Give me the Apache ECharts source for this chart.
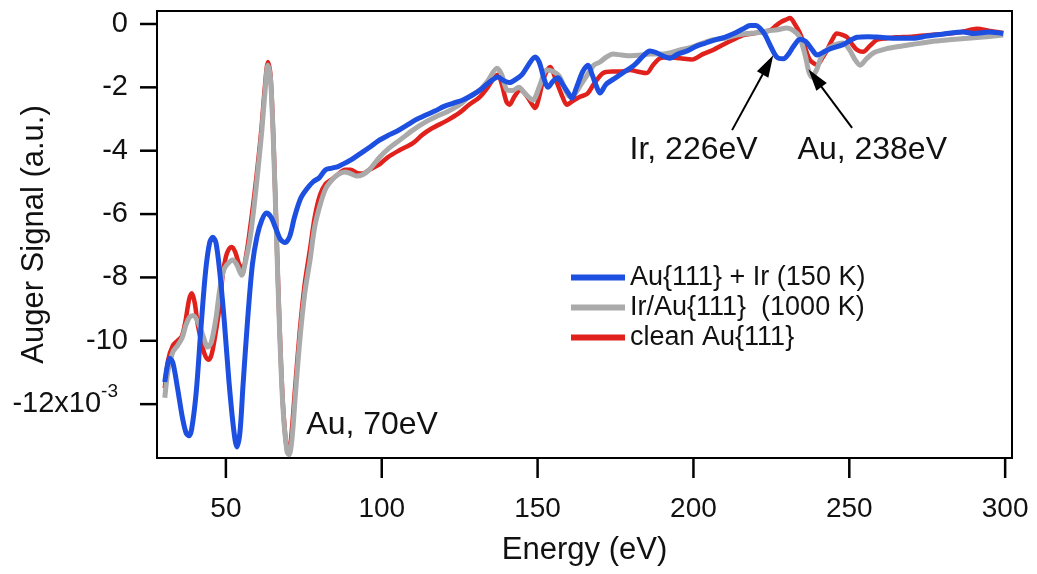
<!DOCTYPE html>
<html><head><meta charset="utf-8">
<script src="https://cdn.jsdelivr.net/npm/echarts@6/dist/echarts.min.js"></script>
<style>html,body{margin:0;padding:0;background:#fff}#c{width:1037px;height:574px}</style>
</head><body><div id="c"></div>
<script>
const seriesNames = ['Au{111} + Ir (150 K)', 'Ir/Au{111}  (1000 K)', 'clean Au{111}'];
const xTicks = [50, 100, 150, 200, 250, 300];
const yTicks = [0, -2, -4, -6, -8, -10, -12];

const blueE = [30.4,31.2,32.0,33.0,34.5,36.0,37.2,38.1,39.0,40.5,42.0,43.5,44.8,45.8,46.8,48.0,49.5,51.0,52.5,53.5,54.5,55.5,57.0,58.5,60.0,61.5,63.0,64.5,66.0,67.5,69.0,70.5,72.0,74.0,76.0,78.0,80.0,82.0,84.0,86.0,88.0,90.0,93.0,96.0,99.0,102,105,108,111,114,117,120,123,126,129,132,135,137.3,139,141,143,145,147,149.2,150.5,152,153.3,155,156.5,158,160,161,162.5,164.5,166.2,167.5,169,170,172,175,178,181,184,186,188,190,192.5,195,198,201,204,207,210,213,216,218.2,220,221.5,223,225,226.8,228.8,230.5,232,234.2,236,238,239.7,241.5,244,248,252.5,256,260,265,270.5,275,280,286.5,290,295,299.4];
const blueS = [-11.3,-10.8,-10.55,-10.7,-11.5,-12.4,-12.9,-13.0,-12.8,-11.6,-9.6,-7.8,-6.9,-6.73,-6.9,-7.8,-9.4,-11.3,-12.8,-13.35,-12.9,-11.4,-9.3,-7.6,-6.7,-6.2,-5.97,-6.1,-6.45,-6.8,-6.9,-6.7,-6.1,-5.5,-5.2,-4.98,-4.85,-4.6,-4.55,-4.5,-4.4,-4.3,-4.1,-3.9,-3.68,-3.52,-3.38,-3.2,-3.02,-2.88,-2.75,-2.6,-2.5,-2.4,-2.25,-2.05,-1.8,-1.67,-1.78,-1.85,-1.75,-1.6,-1.3,-1.04,-1.2,-1.7,-2.0,-1.8,-1.7,-1.9,-2.2,-2.34,-2.0,-1.5,-1.3,-1.6,-2.0,-2.18,-1.9,-1.7,-1.5,-1.3,-1.0,-0.85,-0.9,-1.0,-1.08,-0.95,-0.85,-0.7,-0.6,-0.5,-0.42,-0.3,-0.15,-0.05,-0.05,-0.15,-0.35,-0.75,-1.05,-1.1,-0.95,-0.72,-0.48,-0.55,-0.8,-0.98,-0.9,-0.78,-0.65,-0.42,-0.4,-0.42,-0.45,-0.45,-0.38,-0.32,-0.25,-0.3,-0.25,-0.3];

const grayE = [30.4,31.5,33.0,34.5,36.0,37.2,38.4,39.5,41.0,42.5,44.2,45.3,46.8,48.0,49.2,50.3,52.2,53.5,55.1,56.3,57.7,59.0,60.5,61.5,62.5,63.5,64.3,65.2,66.2,67.2,68.3,69.6,70.3,71.2,72.3,73.7,75.3,77.0,78.5,80.2,82.0,84.0,86.0,88.2,90.0,92.0,94.0,96.0,99.4,102,106,110,114,118,121,125,128,131.5,134,137,138.5,140.2,142,144,146,148.5,150.5,153,155,157,159,160.4,162,164,166,168,170,172,174.2,177,180,183,186,190,193,195.7,199,203,206,210,214,217.2,220,224,227,230,232,234,236,237,238,239.5,241,243,245.5,248,250,252,253.5,255.5,258,262,265.3,270,276,282,288,294,299.4];
const grayS = [-11.8,-10.9,-10.35,-10.15,-9.9,-9.5,-9.25,-9.2,-9.4,-9.8,-10.2,-10.05,-9.3,-8.4,-7.8,-7.6,-7.45,-7.6,-7.93,-7.5,-6.8,-5.8,-4.4,-3.4,-2.2,-1.3,-1.7,-3.6,-6.6,-9.6,-12.1,-13.5,-13.6,-13.1,-11.7,-10.0,-8.5,-7.45,-6.4,-5.72,-5.2,-4.93,-4.75,-4.67,-4.72,-4.8,-4.75,-4.6,-4.2,-3.95,-3.65,-3.35,-3.1,-2.9,-2.77,-2.55,-2.3,-2.08,-1.8,-1.4,-1.6,-2.08,-2.1,-2.0,-2.2,-2.4,-2.0,-1.45,-1.5,-1.65,-2.1,-2.3,-2.2,-1.9,-1.6,-1.3,-1.2,-1.05,-0.95,-0.98,-1.0,-0.98,-0.95,-0.95,-0.9,-0.82,-0.75,-0.6,-0.5,-0.45,-0.35,-0.3,-0.28,-0.22,-0.18,-0.13,-0.2,-0.4,-1.05,-1.5,-1.67,-1.45,-1.05,-0.8,-0.65,-0.6,-0.8,-1.15,-1.3,-1.1,-0.9,-0.78,-0.72,-0.65,-0.56,-0.5,-0.45,-0.4,-0.35];

const redE = [30.4,31.5,33.0,34.5,35.9,37.0,38.2,39.1,40.0,41.0,42.5,43.5,44.5,45.5,46.8,48.0,49.0,50.0,51.0,51.9,53.0,54.3,55.5,56.5,57.7,59.0,60.5,61.5,62.5,63.5,64.3,65.2,66.2,67.2,68.3,69.5,70.2,71.0,72.2,73.7,75.3,77.0,78.5,80.2,82.0,84.0,86.0,88.2,90.0,92.0,94.0,96.0,99.4,102,105.8,110,113,116,120.9,125,128,131.5,134,136,137.3,138.5,140.0,141.0,142.5,144.4,146,148,149.2,150.5,152,154,156,158,159.4,161,163.6,166,168,171,174,177,179.7,182,185,187,189.3,192,195.7,199.5,203,206.3,209,212.7,216,219,222,224.6,226.5,228,230,231,232.5,234.2,236,237.4,239.7,241.5,242.9,244.5,246,248,249.3,251,252.5,254.4,256.5,258.9,262,265,270,276,282,286,291,295,299.4];
const redS = [-11.5,-10.6,-10.15,-10.0,-9.85,-9.4,-8.7,-8.5,-8.8,-9.5,-10.2,-10.5,-10.6,-10.4,-9.7,-8.9,-7.9,-7.35,-7.1,-7.04,-7.2,-7.6,-7.7,-7.3,-6.5,-5.5,-4.2,-3.2,-2.0,-1.2,-1.6,-3.5,-6.5,-9.5,-12.0,-13.4,-13.5,-13.0,-11.5,-9.7,-8.2,-7.1,-6.1,-5.4,-5.05,-4.9,-4.75,-4.6,-4.6,-4.7,-4.72,-4.6,-4.42,-4.2,-3.98,-3.76,-3.5,-3.3,-3.05,-2.8,-2.55,-2.3,-2.0,-1.7,-1.6,-1.9,-2.45,-2.55,-2.3,-2.08,-2.2,-2.5,-2.65,-2.3,-1.7,-1.36,-1.8,-2.3,-2.55,-2.45,-2.3,-2.2,-1.9,-1.55,-1.5,-1.5,-1.45,-1.5,-1.55,-1.3,-1.08,-1.05,-1.08,-1.12,-0.95,-0.82,-0.68,-0.5,-0.35,-0.3,-0.25,-0.2,-0.05,0.06,0.15,0.19,0.0,-0.3,-0.8,-1.14,-1.29,-1.05,-0.82,-0.5,-0.3,-0.35,-0.42,-0.65,-0.82,-0.88,-0.7,-0.5,-0.45,-0.42,-0.4,-0.35,-0.3,-0.25,-0.15,-0.22,-0.28];

// annotation texts: [text, energy, signal] (left anchor, vertical middle)
const noteTexts = [['Au, 70eV', 75.8, -12.65], ['Ir, 226eV', 179.5, -3.98], ['Au, 238eV', 233.4, -3.98]];
// arrows: [tailE, tailS, headE, headS]
const arrows = [[212.4, -3.35, 223.9, -1.29], [250.9, -3.28, 239.0, -1.71]];

const zip = (a, b) => a.map((v, i) => [v, b[i]]);
const FONT = '"Liberation Sans", Arial, sans-serif';
const colors = ['#1d4fe0', '#aaaaaa', '#e0211c'];
const X_MIN = 27.9, X_MAX = 302.2, Y_MIN = -13.7, Y_MAX = 0.41;

const chart = echarts.init(document.getElementById('c'), null, {renderer: 'canvas'});
const mk = (name, e, s, color, w, z) => ({
  name, type: 'line', data: zip(e, s), showSymbol: false, symbol: 'none', smooth: 0.3,
  lineStyle: {color, width: w}, itemStyle: {color}, z, animation: false
});
const sRed = mk(seriesNames[2], redE, redS, colors[2], 4.5, 2);
const sGray = mk(seriesNames[1], grayE, grayS, colors[1], 5, 3);
const sBlue = mk(seriesNames[0], blueE, blueS, colors[0], 5, 4);
sBlue.markLine = {
  silent: true, animation: false, symbol: ['none', 'triangle'], symbolSize: [13, 22],
  lineStyle: {color: '#000', width: 2, type: 'solid'}, label: {show: false},
  itemStyle: {color: '#000'},
  data: arrows.map(a => [{coord: [a[0], a[1]]}, {coord: [a[2], a[3]]}])
};

chart.setOption({
  animation: false,
  backgroundColor: '#fff',
  grid: {left: 157, right: 25, top: 11, bottom: 116, show: true, borderColor: '#000', borderWidth: 2,
         backgroundColor: 'transparent', containLabel: false, outerBoundsMode: 'none'},
  xAxis: {
    type: 'value', min: X_MIN, max: X_MAX,
    name: 'Energy (eV)', nameLocation: 'middle', nameGap: 77, nameMoveOverlap: false,
    nameTextStyle: {fontFamily: FONT, fontSize: 31, color: '#111'},
    axisLine: {show: true, onZero: false, lineStyle: {color: '#000', width: 2}},
    axisTick: {show: false},
    axisLabel: {fontFamily: FONT, fontSize: 28, color: '#111', margin: 37, customValues: xTicks},
    splitLine: {show: false}
  },
  yAxis: {
    type: 'value', min: Y_MIN, max: Y_MAX,
    name: 'Auger Signal (a.u.)', nameLocation: 'middle', nameGap: 107, nameRotate: 90, nameMoveOverlap: false,
    nameTextStyle: {fontFamily: FONT, fontSize: 31, color: '#111'},
    axisLine: {show: true, onZero: false, lineStyle: {color: '#000', width: 2}},
    axisTick: {show: false},
    axisLabel: {
      fontFamily: FONT, fontSize: 29, color: '#111', margin: 29, customValues: yTicks,
      formatter: v => v === -12 ? '{a|-12x10}{s|-3}' : String(v),
      rich: {
        a: {fontFamily: FONT, fontSize: 29, color: '#111'},
        s: {fontFamily: FONT, fontSize: 19, color: '#111', padding: [0, 10, 24, 0]}
      }
    },
    splitLine: {show: false}
  },
  legend: {
    orient: 'vertical', left: 566, top: 259, icon: 'rect', itemWidth: 54, itemHeight: 6, itemGap: 3,
    data: seriesNames,
    textStyle: {fontFamily: FONT, fontSize: 27, color: '#111', lineHeight: 27}
  },
  series: [sRed, sGray, sBlue]
});

// outward tick marks at the tick values, placed through the axes' own scales
const g = [];
const px = (x, y) => chart.convertToPixel({gridIndex: 0}, [x, y]);
xTicks.forEach(v => {
  const p = px(v, Y_MIN);
  g.push({type: 'line', shape: {x1: p[0], y1: p[1], x2: p[0], y2: p[1] + 20}, style: {stroke: '#000', lineWidth: 2.5}, z: 10});
});
yTicks.forEach(v => {
  const p = px(X_MIN, v);
  g.push({type: 'line', shape: {x1: p[0] - 17, y1: p[1], x2: p[0], y2: p[1]}, style: {stroke: '#000', lineWidth: 2.5}, z: 10});
});
noteTexts.forEach(t => {
  const p = px(t[1], t[2]);
  g.push({type: 'text', x: p[0], y: p[1], style: {text: t[0], font: '32px ' + FONT, fill: '#111', textAlign: 'left', textVerticalAlign: 'middle'}, z: 10});
});
chart.setOption({graphic: g});
</script></body></html>
